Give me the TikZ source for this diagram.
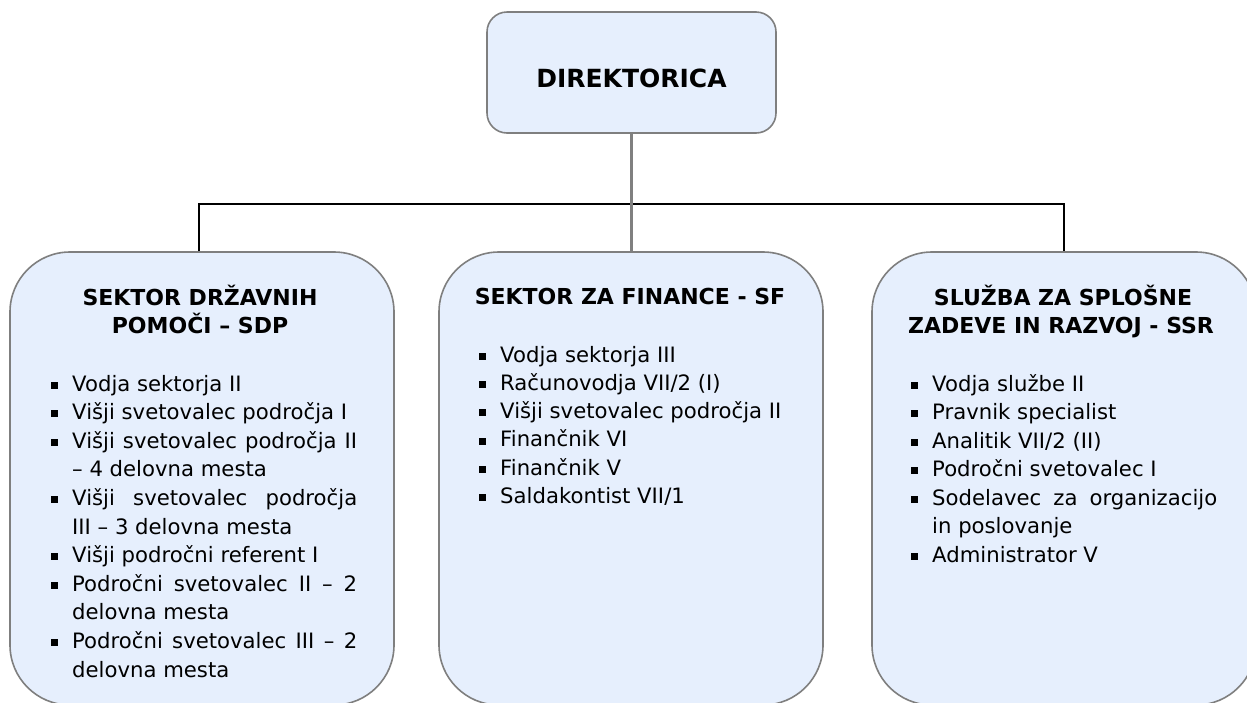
\documentclass[tikz,border=0pt]{standalone}
\usepackage{fontspec}
\setmainfont{DejaVu Sans}
\definecolor{boxfill}{HTML}{E6EFFD}
\definecolor{boxline}{HTML}{7F7F7F}
\definecolor{stem}{HTML}{808080}
\newcommand\bul{\llap{\raisebox{2.2pt}{\rule{7pt}{7pt}}\hspace{14pt}}}
\newcommand\jl[1]{\makebox[285pt][s]{#1}}
\begin{document}
\begin{tikzpicture}[x=1pt,y=-1pt,
  unit/.style={draw=boxline, line width=1.6pt, fill=boxfill, rounded corners=60pt, inner sep=0pt, minimum width=384pt, minimum height=453pt},
  topbox/.style={draw=boxline, line width=1.6pt, fill=boxfill, rounded corners=20pt, inner sep=0pt, minimum width=289pt, minimum height=121pt},
  item/.style={anchor=base west, inner sep=0pt, font=\fontsize{21.2}{28.5}\selectfont},
  head/.style={anchor=base, inner sep=0pt, font=\fontsize{22}{28}\selectfont\bfseries},
  bus/.style={draw=black, line width=1.5pt},
  stemline/.style={draw=stem, line width=3.2pt}]
\useasboundingbox (0,0) rectangle (1247,702);

% boxes
\node[topbox] (dir) at (631.5,72.5) {};
\node[anchor=base, inner sep=0pt, font=\fontsize{25}{30}\selectfont\bfseries] (dirt) at (631.5,87) {DIREKTORICA};
\node[unit] (sdp) at (202,478.5) {};
\node[unit] (sf) at (631,478.5) {};
\node[unit] (ssr) at (1064,478.5) {};

% connectors
\coordinate (busc) at (631,204);
\draw[bus] ([xshift=-3pt]sdp.north) |- (busc) -| (ssr.north);
\draw[stemline] (dir.south) -- (dir.south |- sf.north);

% SDP
\node[head] (sdph1) at (200,305) {SEKTOR DRŽAVNIH};
\node[head] (sdph2) at (200,333) {POMOČI – SDP};
\node[item] (sdp1) at (72,391) {\bul Vodja sektorja II};
\node[item] (sdp2) at (72,419.6) {\bul Višji svetovalec področja I};
\node[item] (sdp3) at (72,448.2) {\bul\jl{Višji svetovalec področja II}};
\node[item] (sdp4) at (72,476.8) {– 4 delovna mesta};
\node[item] (sdp5) at (72,505.4) {\bul\jl{Višji svetovalec področja}};
\node[item] (sdp6) at (72,534) {III – 3 delovna mesta};
\node[item] (sdp7) at (72,562.6) {\bul Višji področni referent I};
\node[item] (sdp8) at (72,591.2) {\bul\jl{Področni svetovalec II – 2}};
\node[item] (sdp9) at (72,619.8) {delovna mesta};
\node[item] (sdp10) at (72,648.4) {\bul\jl{Področni svetovalec III – 2}};
\node[item] (sdp11) at (72,677) {delovna mesta};

% SF
\node[head] (sfh) at (630,304) {SEKTOR ZA FINANCE - SF};
\node[item] (sf1) at (500,362) {\bul Vodja sektorja III};
\node[item] (sf2) at (500,390.3) {\bul Računovodja VII/2 (I)};
\node[item] (sf3) at (500,418.6) {\bul Višji svetovalec področja II};
\node[item] (sf4) at (500,446.9) {\bul Finančnik VI};
\node[item] (sf5) at (500,475.2) {\bul Finančnik V};
\node[item] (sf6) at (500,503.5) {\bul Saldakontist VII/1};

% SSR
\node[head] (ssrh1) at (1063,305) {SLUŽBA ZA SPLOŠNE};
\node[head] (ssrh2) at (1061,333) {ZADEVE IN RAZVOJ - SSR};
\node[item] (ssr1) at (932,391) {\bul Vodja službe II};
\node[item] (ssr2) at (932,419.5) {\bul Pravnik specialist};
\node[item] (ssr3) at (932,448) {\bul Analitik VII/2 (II)};
\node[item] (ssr4) at (932,476.5) {\bul Področni svetovalec I};
\node[item] (ssr5) at (932,505) {\bul\jl{Sodelavec za organizacijo}};
\node[item] (ssr6) at (932,533.5) {in poslovanje};
\node[item] (ssr7) at (932,562) {\bul Administrator V};
\end{tikzpicture}
\end{document}
